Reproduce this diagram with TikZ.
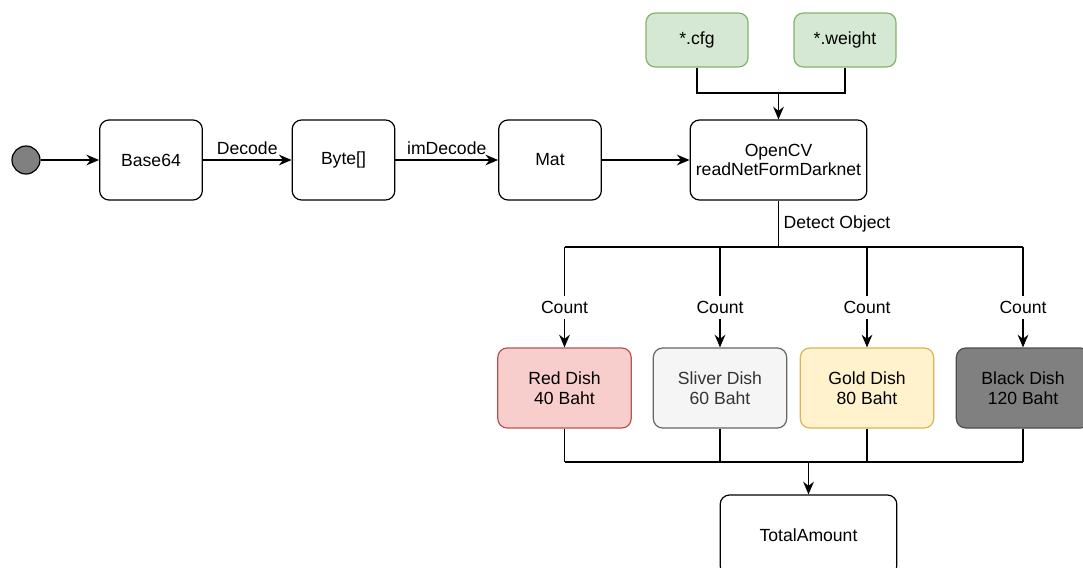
\documentclass[tikz,border=0pt]{standalone}
\usepackage{fontspec}
\setmainfont{Liberation Sans}
\usetikzlibrary{arrows.meta, positioning}
\definecolor{dishred}{HTML}{F8CECC}
\definecolor{dishredline}{HTML}{B85450}
\definecolor{dishsilver}{HTML}{F5F5F5}
\definecolor{dishsilverline}{HTML}{666666}
\definecolor{dishgold}{HTML}{FFF2CC}
\definecolor{dishgoldline}{HTML}{D6B656}
\definecolor{dishblack}{HTML}{808080}
\definecolor{dishblackline}{HTML}{4D4D4D}
\definecolor{filegreen}{HTML}{D5E8D4}
\definecolor{filegreenline}{HTML}{82B366}
\tikzset{stbox/.style={rectangle, rounded corners=7pt, draw=black, line width=0.9pt, fill=white, align=center, minimum width=77pt, minimum height=60pt, inner sep=0pt}}
\tikzset{filebox/.style={stbox, draw=filegreenline, fill=filegreen, minimum width=76.5pt, minimum height=40.5pt}}
\tikzset{dishbox/.style={stbox, minimum width=100pt}}
\tikzset{startdot/.style={circle, draw=black, line width=0.9pt, fill=dishblack, minimum size=21pt, inner sep=0pt}}
\tikzset{flow/.style={line width=1.1pt, -{Stealth[length=9.5pt, width=8pt]}}}
\tikzset{wire/.style={line width=1.1pt}}
\tikzset{lbl/.style={fill=white, inner xsep=1pt, inner ysep=4pt}}

\begin{document}
\begin{tikzpicture}[x=0.75pt, y=-0.75pt, font=\fontsize{13.2}{14.6}\selectfont]
    \clip (0, 0) rectangle (1083, 568);

    \node[startdot] (start) at (26, 160) {};
    \node[stbox] (base) at (151, 160) {Base64};
    \node[stbox] (byte) at (343.5, 160) {Byte[]};
    \node[stbox] (mat) at (550, 160) {Mat};
    \node[stbox, minimum width=132.5pt] (cv) at (778.5, 160) {OpenCV\\readNetFormDarknet};

    \node[filebox] (cfg) at (697, 40) {*.cfg};
    \node[filebox] (weight) at (845, 40) {*.weight};

    \node[dishbox, draw=dishredline, fill=dishred] (red) at (564.5, 388) {Red Dish\\40 Baht};
    \node[dishbox, draw=dishsilverline, fill=dishsilver, text=black!80] (silver) at (720, 388) {Sliver Dish\\60 Baht};
    \node[dishbox, draw=dishgoldline, fill=dishgold] (gold) at (867, 388) {Gold Dish\\80 Baht};
    \node[dishbox, draw=dishblackline, fill=dishblack] (black) at (1023, 388) {Black Dish\\120 Baht};

    \node[stbox, minimum width=132.5pt] (total) at (808.5, 535) {TotalAmount};

    \coordinate (filejoin) at (778.5, 93);
    \coordinate (split) at (778.5, 247);
    \coordinate (merge) at (808.5, 462);

    \draw
    (start) edge[flow] (base)
    (base) edge[flow] node[above]{Decode} (byte)
    (byte) edge[flow] node[above]{imDecode} (mat)
    (mat) edge[flow] (cv);

    \draw[wire] (cfg.south) |- (filejoin) -| (weight.south);
    \draw[flow] (filejoin) -- (cv.north);

    \draw[wire] (cv.south) -- node[right]{Detect Object} (split);
    \draw[wire] (red.north |- split) -- (black.north |- split);
    \foreach \d in {red, silver, gold, black}
        \draw[flow] (\d.north |- split) -- node[lbl, pos=0.6]{Count} (\d.north);

    \foreach \d in {red, silver, gold, black}
        \draw[wire] (\d.south) -- (\d.south |- merge);
    \draw[wire] (red.south |- merge) -- (black.south |- merge);
    \draw[flow] (merge) -- (total.north);
\end{tikzpicture}
\end{document}
